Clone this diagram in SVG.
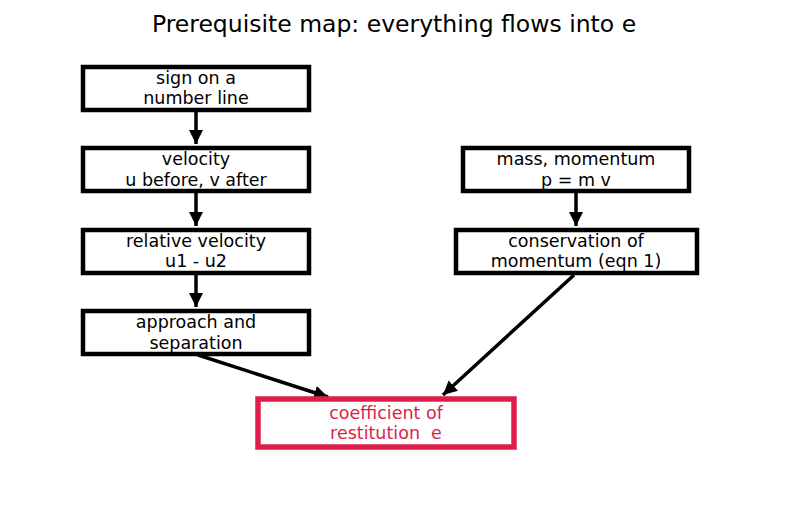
<svg xmlns="http://www.w3.org/2000/svg" width="787" height="510" viewBox="0 0 787 510">
<style>
.box{fill:#fff;stroke:#000;stroke-width:4.5}
.hl{fill:#fff;stroke:#dc1e4a;stroke-width:5.5}
.t{font-family:"DejaVu Sans",sans-serif;font-size:17.5px;text-anchor:middle;fill:#000}
.tr{font-family:"DejaVu Sans",sans-serif;font-size:17.5px;text-anchor:middle;fill:#dc1e4a}
.title{font-family:"DejaVu Sans",sans-serif;font-size:23.5px;text-anchor:middle;fill:#000}
.c{stroke:#000;stroke-width:3.5;fill:none;marker-end:url(#ah)}
</style>
<defs>
<marker id="ah" viewBox="0 0 10 10" refX="10" refY="5" markerWidth="4" markerHeight="4" orient="auto" markerUnits="strokeWidth">
<path d="M0,0 L10,5 L0,10 z" fill="#000"/>
</marker>
</defs>
<rect width="787" height="510" fill="#fff"/>
<text class="title" x="394" y="32">Prerequisite map: everything flows into e</text>
<g id="connectors">
<line class="c" x1="196" y1="111" x2="196" y2="144"/>
<line class="c" x1="196" y1="193" x2="196" y2="226"/>
<line class="c" x1="196" y1="274" x2="196" y2="307"/>
<line class="c" x1="576" y1="193" x2="576" y2="226"/>
<line class="c" x1="198" y1="355" x2="328" y2="397"/>
<line class="c" x1="574" y1="275" x2="443" y2="395"/>
</g>
<g id="n1"><rect class="box" x="83" y="67" width="226" height="43"/><text class="t" x="196" y="84">sign on a</text><text class="t" x="196" y="104">number line</text></g>
<g id="n2"><rect class="box" x="83" y="148" width="226" height="43"/><text class="t" x="196" y="165">velocity</text><text class="t" x="196" y="186">u before, v after</text></g>
<g id="n3"><rect class="box" x="83" y="230" width="226" height="43"/><text class="t" x="196" y="247">relative velocity</text><text class="t" x="196" y="267">u1 - u2</text></g>
<g id="n4"><rect class="box" x="83" y="311" width="226" height="43"/><text class="t" x="196" y="328">approach and</text><text class="t" x="196" y="349">separation</text></g>
<g id="n5"><rect class="box" x="463" y="148" width="226" height="43"/><text class="t" x="576" y="165">mass, momentum</text><text class="t" x="576" y="186">p = m v</text></g>
<g id="n6"><rect class="box" x="456" y="230" width="241" height="43"/><text class="t" x="576" y="247">conservation of</text><text class="t" x="576" y="267">momentum (eqn 1)</text></g>
<g id="n7"><rect class="hl" x="258" y="399" width="256" height="48"/><text class="tr" x="386" y="419">coefficient of</text><text class="tr" x="386" y="439" xml:space="preserve">restitution  e</text></g>
</svg>
